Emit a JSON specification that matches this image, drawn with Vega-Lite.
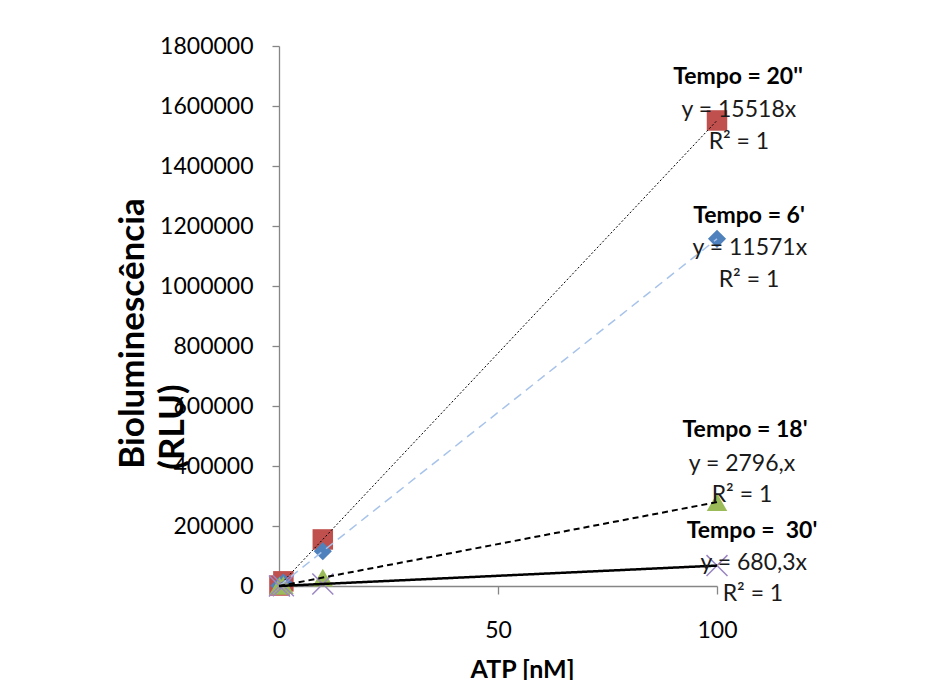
{
  "$schema": "https://vega.github.io/schema/vega-lite/v6.json",
  "width": 438,
  "height": 540,
  "autosize": {"type": "none"},
  "padding": {"left": 279, "top": 46, "right": 216, "bottom": 94},
  "background": "white",
  "config": {
    "view": {"stroke": null},
    "font": "Lato",
    "axis": {
      "grid": false,
      "labelFlush": false,
      "labelOverlap": false,
      "domainColor": "#868686",
      "tickColor": "#868686",
      "domainWidth": 1.3,
      "tickWidth": 1.3,
      "labelFont": "Lato",
      "labelFontSize": 23,
      "labelColor": "#000000",
      "titleFont": "Lato",
      "titleColor": "#000000",
      "titleFontWeight": "bold"
    }
  },
  "datasets": {
    "points": [
      {"series": "Tempo = 20''", "x": 0.1, "y": 1551.8},
      {"series": "Tempo = 20''", "x": 1, "y": 15518},
      {"series": "Tempo = 20''", "x": 10, "y": 155180},
      {"series": "Tempo = 20''", "x": 100, "y": 1551800},
      {"series": "Tempo = 6'", "x": 0.1, "y": 1157.1},
      {"series": "Tempo = 6'", "x": 1, "y": 11571},
      {"series": "Tempo = 6'", "x": 10, "y": 115710},
      {"series": "Tempo = 6'", "x": 100, "y": 1157100},
      {"series": "Tempo = 18'", "x": 0.1, "y": 279.6},
      {"series": "Tempo = 18'", "x": 1, "y": 2796},
      {"series": "Tempo = 18'", "x": 10, "y": 27960},
      {"series": "Tempo = 18'", "x": 100, "y": 279600},
      {"series": "Tempo = 30'", "x": 0.1, "y": 68.03},
      {"series": "Tempo = 30'", "x": 1, "y": 680.3},
      {"series": "Tempo = 30'", "x": 10, "y": 6803},
      {"series": "Tempo = 30'", "x": 100, "y": 68030}
    ],
    "labels": [
      {"kind": "title", "text": "Tempo = 20''", "lx": 104.8, "ly": 1696667},
      {"kind": "body", "text": "y = 15518x", "lx": 105.0, "ly": 1586667},
      {"kind": "body", "text": "R² = 1", "lx": 105.0, "ly": 1480000},
      {"kind": "title", "text": "Tempo = 6'", "lx": 107.3, "ly": 1233333},
      {"kind": "body", "text": "y = 11571x", "lx": 107.5, "ly": 1126667},
      {"kind": "body", "text": "R² = 1", "lx": 107.3, "ly": 1020000},
      {"kind": "title", "text": "Tempo = 18'", "lx": 106.4, "ly": 520000},
      {"kind": "body", "text": "y = 2796,x", "lx": 105.7, "ly": 406667},
      {"kind": "body", "text": "R² = 1", "lx": 105.7, "ly": 303333},
      {"kind": "title", "text": "Tempo = \u00a030'", "lx": 108.0, "ly": 183333},
      {"kind": "body", "text": "y = 680,3x", "lx": 108.4, "ly": 76667},
      {"kind": "body", "text": "R² = 1", "lx": 108.2, "ly": -26667}
    ]
  },
  "layer": [
    {
      "data": {"name": "points"},
      "transform": [{"filter": "datum.series === \"Tempo = 20''\""}],
      "mark": {"type": "point", "shape": "square", "filled": true, "opacity": 1, "color": "#C0504D", "size": 420},
      "encoding": {
        "x": {"field": "x", "type": "quantitative", "scale": {"domain": [0, 100], "nice": false},
          "axis": {"values": [0, 50, 100], "tickSize": 8, "labelPadding": 36, "labelBaseline": "middle",
            "title": "ATP [nM]", "titleFontSize": 25, "titleX": 243, "titleY": 91, "titleBaseline": "alphabetic", "titleAnchor": null, "titleAlign": "center"}},
        "y": {"field": "y", "type": "quantitative", "scale": {"domain": [0, 1800000], "nice": false},
          "axis": {"values": [0, 200000, 400000, 600000, 800000, 1000000, 1200000, 1400000, 1600000, 1800000],
            "format": "d", "tickSize": 7, "labelPadding": 19,
            "title": ["Bioluminescência", "(RLU)\u00a0\u00a0\u00a0\u00a0\u00a0\u00a0\u00a0\u00a0\u00a0\u00a0\u00a0\u00a0\u00a0\u00a0\u00a0\u00a0\u00a0\u00a0\u00a0\u00a0\u00a0\u00a0\u200b"],
            "titleFontSize": 35, "titleAngle": -90, "titleAlign": "center", "titleBaseline": "alphabetic",
            "titleX": -136, "titleY": 287, "titleLineHeight": 40}}
      }
    },
    {
      "data": {"name": "points"},
      "transform": [{"filter": "datum.series === \"Tempo = 6'\""}],
      "mark": {"type": "point", "shape": "diamond", "filled": true, "opacity": 1, "color": "#4F81BD", "size": 330},
      "encoding": {
        "x": {"field": "x", "type": "quantitative"},
        "y": {"field": "y", "type": "quantitative"}
      }
    },
    {
      "data": {"name": "points"},
      "transform": [{"filter": "datum.series === \"Tempo = 18'\""}],
      "mark": {"type": "point", "shape": "triangle-up", "filled": true, "opacity": 1, "color": "#9BBB59", "size": 420},
      "encoding": {
        "x": {"field": "x", "type": "quantitative"},
        "y": {"field": "y", "type": "quantitative"}
      }
    },
    {
      "data": {"name": "points"},
      "transform": [{"filter": "datum.series === \"Tempo = 30'\""}],
      "mark": {"type": "point", "shape": "M-1,-1L1,1M-1,1L1,-1", "filled": false, "opacity": 1, "color": "#9A86C2", "strokeWidth": 1.5, "size": 440},
      "encoding": {
        "x": {"field": "x", "type": "quantitative"},
        "y": {"field": "y", "type": "quantitative"}
      }
    },
    {
      "data": {"name": "points"},
      "transform": [{"regression": "y", "on": "x", "groupby": ["series"], "method": "linear", "extent": [0, 100]}],
      "mark": {"type": "line", "clip": false},
      "encoding": {
        "x": {"field": "x", "type": "quantitative"},
        "y": {"field": "y", "type": "quantitative"},
        "detail": {"field": "series"},
        "color": {"field": "series", "type": "nominal", "legend": null,
          "scale": {"domain": ["Tempo = 20''", "Tempo = 6'", "Tempo = 18'", "Tempo = 30'"], "range": ["#000000", "#A7C3EA", "#000000", "#000000"]}},
        "strokeDash": {"field": "series", "type": "nominal", "legend": null,
          "scale": {"domain": ["Tempo = 20''", "Tempo = 6'", "Tempo = 18'", "Tempo = 30'"], "range": [[2, 2], [9, 6], [6, 4], [1, 0]]}},
        "strokeWidth": {"field": "series", "type": "nominal", "legend": null,
          "scale": {"domain": ["Tempo = 20''", "Tempo = 6'", "Tempo = 18'", "Tempo = 30'"], "range": [1, 2.5, 1.3, 1.3]}}
      }
    },
    {
      "data": {"name": "labels"},
      "transform": [{"filter": "datum.kind === 'title'"}],
      "mark": {"type": "text", "font": "Lato", "fontSize": 23, "fontWeight": "bold", "color": "#000000", "align": "center", "baseline": "middle"},
      "encoding": {
        "x": {"field": "lx", "type": "quantitative"},
        "y": {"field": "ly", "type": "quantitative"},
        "text": {"field": "text"}
      }
    },
    {
      "data": {"name": "labels"},
      "transform": [{"filter": "datum.kind === 'body'"}],
      "mark": {"type": "text", "font": "Lato", "fontSize": 23, "color": "#1a1a1a", "align": "center", "baseline": "middle"},
      "encoding": {
        "x": {"field": "lx", "type": "quantitative"},
        "y": {"field": "ly", "type": "quantitative"},
        "text": {"field": "text"}
      }
    }
  ]
}
